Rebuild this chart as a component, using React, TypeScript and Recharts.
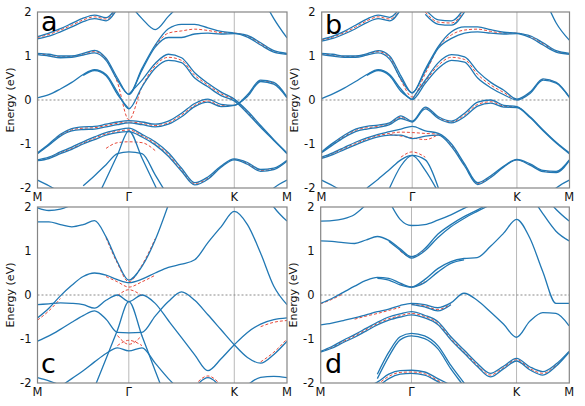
import React from 'react';
import { LineChart, Line, XAxis, YAxis, ReferenceLine } from 'recharts';

// ── Path, ticks ──────────────────────────────────────────────────────────────

// k-path M → Γ → K → M (hexagonal BZ, |ΓK| = 1)
const K_PATH = [0, 0.108, 0.217, 0.325, 0.433, 0.541, 0.65, 0.758, 0.866, 0.991, 1.116, 1.241, 1.366, 1.491, 1.616, 1.741, 1.866, 1.991, 2.116, 2.241, 2.366];
const K_TICKS = [0, 0.866, 1.866, 2.366];
const K_LABELS = ['M', 'Γ', 'K', 'M'];
const E_TICKS = [-2, -1, 0, 1, 2];

// pad a band that starts part way along the path
const from = (start: number, vals: number[]) => [...Array(start).fill(null), ...vals];

// ── Panel a ─────────────────────────────────────────────────────────────────

const A_BLUE = [
  [1.44, 1.52, 1.62, 1.74, 1.86, 1.93, 1.87, 2.15],
  [1.39, 1.45, 1.55, 1.66, 1.78, 1.85, 1.8, 2.08],
  [1.06, 1.04, 1.0, 1.0, 1.06, 1.13, 0.95, 0.5, 0.13, 0.72, 1.25, 1.62, 1.72, 1.72, 1.64, 1.56, 1.52, 1.47, 1.3, 1.12, 1.06],
  [1.03, 1.0, 0.96, 0.97, 1.02, 1.07, 0.9, 0.45, 0.13, 0.68, 1.2, 1.42, 1.42, 1.5, 1.52, 1.5, 1.51, 1.43, 1.25, 1.09, 1.04],
  [0.05, 0.12, 0.25, 0.4, 0.58, 0.69, 0.58, 0.18, -0.2, 0.3, 0.72, 0.9, 0.85, 0.5, 0.3, 0.1, -0.02, -0.3, -0.62, -0.92, -1.22],
  from(4, [0.56, 0.67, 0.55, 0.13, -0.2]),
  from(8, [0.13, 0.45, 0.83, 1.04, 0.96, 0.62, 0.38, 0.18, 0.02, -0.25, -0.58, -0.9, -1.2]),
  [-1.2, -1.0, -0.78, -0.65, -0.61, -0.6, -0.55, -0.5, -0.47, -0.5, -0.55, -0.48, -0.3, -0.08, 0.02, -0.1, -0.12, 0.12, 0.45, 0.4, 0.07],
  [-1.22, -1.03, -0.82, -0.7, -0.67, -0.66, -0.61, -0.56, -0.52, -0.56, -0.61, -0.55, -0.38, -0.15, -0.05, -0.15, -0.12, 0.08, 0.42, 0.36, 0.05],
  [-1.36, -1.3, -1.18, -1.07, -0.95, -0.84, -0.74, -0.68, -0.64, -0.78, -0.95, -1.2, -1.55, -1.88, -1.75, -1.5, -1.34, -1.42, -1.58, -1.55, -1.37],
  [-1.38, -1.33, -1.22, -1.12, -1.0, -0.9, -0.8, -0.74, -0.72, -0.84, -1.02, -1.28, -1.62, -1.93, -1.8, -1.53, -1.36, -1.46, -1.62, -1.58, -1.39],
  from(5, [-2.35, -1.8, -1.25, -0.7, -1.32, -1.95, -2.6]),
  from(4, [-1.95, -1.72, -1.47, -1.22, -1.18, -1.22, -1.7, -2.2]),
  [-1.82, -1.95, -2.1],
  from(18, [-2.3, -2.0, -1.82]),
  from(18, [2.4, 1.85, 1.41]),
  from(8, [2.2, 1.85, 1.6, 1.9, 2.2]),
];

const A_RED = [
  [1.42, 1.49, 1.59, 1.7, 1.82, 1.89, 1.84, 2.12],
  [1.05, 1.02, 0.98, 0.99, 1.04, 1.1, 0.93, 0.4, -0.45, 0.3, 0.78, 0.97, 0.9, 0.56, 0.34, 0.14, 0.0, -0.28, -0.6, -0.91, -1.21],
  from(10, [1.22, 1.52, 1.57, 1.61, 1.58, 1.53, 1.52, 1.45, 1.28, 1.1, 1.05]),
  [-1.21, -1.02, -0.8, -0.68, -0.64, -0.63, -0.58, -0.53, -0.5, -0.53, -0.58, -0.52, -0.34, -0.12, -0.02, -0.13, -0.12, 0.1, 0.44, 0.38, 0.06],
  [-1.37, -1.32, -1.2, -1.1, -0.98, -0.87, -0.77, -0.71, -0.68, -0.81, -0.99, -1.24, -1.59, -1.9, -1.78, -1.52, -1.35, -1.44, -1.6, -1.57, -1.38],
  from(6, [-1.1, -0.97, -0.95, -0.97, -1.15]),
];

// ── Panel b ─────────────────────────────────────────────────────────────────

const B_BLUE = [
  [1.38, 1.45, 1.56, 1.7, 1.84, 1.93, 1.88, 2.12],
  [1.34, 1.4, 1.5, 1.62, 1.76, 1.85, 1.8, 2.06],
  [1.06, 1.04, 1.0, 1.0, 1.05, 1.12, 1.0, 0.55, 0.16, 0.7, 1.22, 1.55, 1.66, 1.66, 1.6, 1.54, 1.52, 1.46, 1.3, 1.12, 1.06],
  [1.03, 1.0, 0.97, 0.97, 1.02, 1.07, 0.93, 0.48, 0.16, 0.66, 1.18, 1.4, 1.52, 1.55, 1.52, 1.5, 1.51, 1.42, 1.25, 1.09, 1.04],
  [0.03, 0.14, 0.27, 0.42, 0.58, 0.69, 0.58, 0.25, 0.01, 0.38, 0.72, 0.9, 0.86, 0.5, 0.28, 0.12, 0.0, 0.15, 0.45, 0.38, 0.06],
  from(4, [0.56, 0.67, 0.55, 0.2, 0.01]),
  from(8, [0.01, 0.45, 0.85, 1.03, 0.98, 0.65, 0.4, 0.22, 0.02, 0.18, 0.48, 0.4, 0.07]),
  [-1.18, -0.98, -0.8, -0.66, -0.6, -0.57, -0.52, -0.36, -0.48, -0.16, -0.38, -0.48, -0.3, -0.05, 0.0, -0.12, -0.15, -0.38, -0.68, -0.96, -1.2],
  [-1.2, -1.02, -0.85, -0.72, -0.66, -0.62, -0.56, -0.42, -0.5, -0.2, -0.42, -0.52, -0.38, -0.14, -0.07, -0.16, -0.17, -0.4, -0.7, -0.98, -1.22],
  [-1.3, -1.2, -1.08, -0.96, -0.86, -0.78, -0.72, -0.66, -0.6, -0.7, -0.76, -1.0, -1.45, -1.88, -1.72, -1.5, -1.35, -1.45, -1.6, -1.62, -1.36],
  [-1.33, -1.24, -1.13, -1.02, -0.92, -0.84, -0.8, -0.8, -0.88, -0.82, -0.8, -1.06, -1.5, -1.92, -1.76, -1.52, -1.36, -1.48, -1.63, -1.65, -1.38],
  from(4, [-2.0, -1.8, -1.58, -1.36, -1.26, -1.36, -2.0]),
  from(6, [-2.0, -1.5, -1.26, -1.6, -2.1]),
  [-1.82, -1.95, -2.1],
  from(18, [-2.3, -2.0, -1.82]),
  from(18, [2.4, 1.75, 1.36]),
  from(8, [2.3, 2.05, 1.82, 1.8, 2.1]),
  from(9, [1.95, 1.72, 1.7, 2.0]),
];

const B_RED = [
  [1.36, 1.43, 1.53, 1.66, 1.8, 1.89, 1.84, 2.09],
  [1.05, 1.02, 0.99, 0.99, 1.04, 1.1, 0.97, 0.45, 0.07, 0.6, 1.2, 1.48, 1.59, 1.61, 1.56, 1.52, 1.52, 1.44, 1.28, 1.1, 1.05],
  from(8, [0.01, 0.42, 0.79, 0.97, 0.92, 0.58, 0.34, 0.17, 0.01, 0.17, 0.47, 0.39, 0.07]),
  [-1.19, -1.0, -0.83, -0.69, -0.63, -0.6, -0.54, -0.39, -0.49, -0.18, -0.4, -0.5, -0.34, -0.1, -0.04, -0.14, -0.16, -0.39, -0.69, -0.97, -1.21],
  [-1.32, -1.22, -1.1, -0.99, -0.89, -0.81, -0.76, -0.73, -0.74, -0.76, -0.78, -1.03, -1.48, -1.9, -1.74, -1.51, -1.36, -1.47, -1.62, -1.64, -1.37],
  from(6, [-0.78, -0.82, -0.86, -0.9, -0.78]),
  from(7, [-1.3, -1.18, -1.3]),
  from(9, [2.0, 1.77, 1.75, 2.05]),
];

// ── Panel c ─────────────────────────────────────────────────────────────────

const C_BLUE = [
  [1.98, 1.92, 1.95, 2.05],
  [1.66, 1.66, 1.6, 1.55, 1.6, 1.69, 1.32, 0.75, 0.34, 0.65, 1.25, 2.05],
  [-0.52, -0.3, -0.02, 0.22, 0.42, 0.5, 0.45, 0.35, 0.28, 0.36, 0.5, 0.63, 0.7, 0.8, 1.19, 1.55, 1.9, 1.6, 0.95, 0.2, -0.22],
  [-0.22, -0.2, -0.18, -0.19, -0.22, -0.3, -0.12, 0.0, -0.15, 0.0, -0.19, -0.58, -0.97, -1.36, -1.72, -1.45, -1.13, -0.85, -0.66, -0.56, -0.52],
  [-1.05, -0.93, -0.78, -0.62, -0.47, -0.36, -0.55, -0.85, -0.86, -0.85, -0.48, -0.15, 0.07, -0.12, -0.45, -0.79, -1.13, -1.42, -1.55, -1.35, -1.05],
  from(5, [-2.1, -1.45, -0.8, -0.15, -0.93, -1.72, -2.5]),
  from(2, [-2.08, -1.9, -1.72, -1.52, -1.33, -1.2, -1.27, -1.2, -1.55, -1.9, -2.2]),
  [-1.88, -1.95, -2.05],
  from(13, [-2.1, -1.88, -2.1]),
  from(17, [-2.05, -1.87, -1.85, -1.88]),
  from(18, [2.5, 2.0, 1.68]),
];

const C_RED = [
  [-0.57, -0.36, -0.08],
  from(6, [1.3, 0.72, 0.3, 0.68, 1.28]),
  from(6, [0.42, 0.3, 0.18, 0.3, 0.45]),
  from(7, [-0.02, 0.12, -0.02]),
  from(7, [-0.92, -1.12, -0.92]),
  from(7, [-1.15, -1.03, -1.15]),
  from(18, [-0.72, -0.62, -0.58]),
  from(18, [-1.52, -1.3, -1.0]),
  from(13, [-2.05, -1.84, -2.05]),
];

// ── Panel d ─────────────────────────────────────────────────────────────────

const D_BLUE = [
  [1.68, 1.69, 1.73, 1.83, 2.05, 2.3],
  from(6, [2.15, 1.72, 1.58, 1.6, 1.7, 1.82, 1.97, 2.1]),
  [1.23, 1.22, 1.19, 1.17, 1.25, 1.33, 1.24, 1.05, 0.87, 1.05, 1.38, 1.6, 1.78, 1.93, 2.1],
  from(6, [1.22, 1.02, 0.84, 1.0, 1.3, 1.55, 1.74, 1.9, 2.05]),
  [-0.19, -0.08, 0.06, 0.2, 0.33, 0.4, 0.38, 0.27, 0.18, 0.35, 0.6, 0.76, 0.83, 0.85, 1.1, 1.4, 1.72, 1.3, 0.53, -0.19, -0.19],
  from(5, [0.38, 0.34, 0.23, 0.18, 0.28, 0.52, 0.72, 0.8]),
  [-0.68, -0.64, -0.58, -0.52, -0.45, -0.38, -0.32, -0.24, -0.19, -0.22, -0.29, -0.18, 0.04, -0.12, -0.38, -0.66, -0.96, -0.6, -0.4, -0.42, -0.7],
  from(8, [-0.22, -0.27, -0.36, -0.22]),
  [-1.28, -1.17, -1.03, -0.9, -0.76, -0.62, -0.5, -0.43, -0.38, -0.46, -0.6, -0.95, -1.25, -1.55, -1.78, -1.62, -1.44, -1.63, -1.74, -1.57, -1.28],
  [-1.3, -1.21, -1.08, -0.96, -0.82, -0.68, -0.57, -0.5, -0.45, -0.52, -0.67, -1.02, -1.32, -1.62, -1.86, -1.68, -1.5, -1.7, -1.82, -1.62, -1.3],
  from(5, [-1.8, -1.3, -0.95, -0.87, -0.93, -1.15, -1.6, -2.0, -2.4]),
  from(5, [-1.9, -1.4, -1.02, -0.93, -0.99, -1.22, -1.68, -2.08, -2.5]),
  from(4, [-2.1, -1.98, -1.8, -1.72, -1.71, -1.75, -1.9, -2.05]),
  from(5, [-2.1, -1.9, -1.8, -1.78, -1.82, -1.97, -2.15]),
  from(17, [2.3, 1.85, 1.45, 1.23]),
  from(18, [2.3, 1.95, 1.68]),
];

const D_RED = [
  [-1.29, -1.19, -1.06, -0.93, -0.79, -0.65, -0.54, -0.47, -0.42, -0.49, -0.64, -0.99, -1.29, -1.59, -1.82, -1.65, -1.47, -1.67, -1.78, -1.6, -1.29],
  from(5, [-2.04, -1.85, -1.76, -1.75, -1.79, -1.94, -2.1]),
  from(7, [1.0, 0.86, 1.02]),
  from(7, [0.25, 0.18, 0.3]),
  from(8, [-0.21, -0.25, -0.33, -0.2]),
  [-0.2, -0.1, 0.03],
  from(3, [-0.55, -0.48, -0.42, -0.35, -0.28]),
];

// ── Styling ─────────────────────────────────────────────────────────────────

const BLUE = '#2178b4';
const RED = '#e8493a';
const FONT = '"DejaVu Sans", Verdana, sans-serif';
const Y_AXIS_W = 37.5;
const PLOT_H = 176;
const TOP_PAD = 9;

interface PanelProps {
  blue: (number | null)[][];
  red: (number | null)[][];
  plotX: number;
  plotY: number;
  plotW: number;
}

function BandPanel({ blue, red, plotX, plotY, plotW }: PanelProps) {
  const rows = K_PATH.map((k, i) => {
    const row: Record<string, number | null> = { k };
    blue.forEach((b, j) => { row['b' + j] = b[i] ?? null; });
    red.forEach((r, j) => { row['r' + j] = r[i] ?? null; });
    return row;
  });
  const W = Y_AXIS_W + plotW + 8;
  const H = TOP_PAD + PLOT_H + 22;
  return (
    <div style={{ position: 'absolute', left: plotX - Y_AXIS_W, top: plotY - TOP_PAD, width: W, height: H }}>
      <LineChart width={W} height={H} data={rows} margin={{ top: TOP_PAD, right: 8, bottom: 0, left: 0 }}>
        <XAxis
          dataKey="k"
          type="number"
          domain={[0, 2.366]}
          ticks={K_TICKS}
          interval={0}
          tickFormatter={(_v: number, i: number) => K_LABELS[i]}
          tickSize={0}
          tickMargin={5}
          height={22}
          axisLine={false}
          tick={{ fill: '#111', fontSize: 11.5, fontFamily: FONT }}
          allowDataOverflow
        />
        <YAxis
          type="number"
          domain={[-2, 2]}
          ticks={E_TICKS}
          interval={0}
          width={Y_AXIS_W}
          tickSize={0}
          tickMargin={6}
          axisLine={false}
          tick={{ fill: '#111', fontSize: 11.5, fontFamily: FONT }}
          allowDataOverflow
        />
        <ReferenceLine x={0.866} stroke="#b8b8b8" strokeWidth={1} />
        <ReferenceLine x={1.866} stroke="#b8b8b8" strokeWidth={1} />
        <ReferenceLine y={0} stroke="#8a8a8a" strokeWidth={1} strokeDasharray="2 2" />
        {red.map((_r, j) => (
          <Line
            key={'r' + j}
            type="monotone"
            dataKey={'r' + j}
            stroke={RED}
            strokeWidth={1}
            strokeDasharray="3 2"
            dot={false}
            activeDot={false}
            isAnimationActive={false}
          />
        ))}
        {blue.map((_b, j) => (
          <Line
            key={'b' + j}
            type="monotone"
            dataKey={'b' + j}
            stroke={BLUE}
            strokeWidth={1.3}
            dot={false}
            activeDot={false}
            isAnimationActive={false}
          />
        ))}
      </LineChart>
    </div>
  );
}

const PANELS = [
  { key: 'a', blue: A_BLUE, red: A_RED, plotX: 37.5, plotY: 12, plotW: 249.5, lx: 41, ly: 31 },
  { key: 'b', blue: B_BLUE, red: B_RED, plotX: 321.7, plotY: 12, plotW: 247.8, lx: 325, ly: 34 },
  { key: 'c', blue: C_BLUE, red: C_RED, plotX: 37.5, plotY: 207, plotW: 249.5, lx: 41, ly: 373 },
  { key: 'd', blue: D_BLUE, red: D_RED, plotX: 320.7, plotY: 207, plotW: 248.6, lx: 325, ly: 373 },
];

export default function App() {
  return (
    <div style={{ position: 'absolute', left: 0, top: 0, width: 585, height: 406, background: '#fff', overflow: 'hidden' }}>
      {PANELS.map((p) => (
        <BandPanel key={p.key} blue={p.blue} red={p.red} plotX={p.plotX} plotY={p.plotY} plotW={p.plotW} />
      ))}
      <svg width={585} height={406} style={{ position: 'absolute', left: 0, top: 0, pointerEvents: 'none' }}>
        {PANELS.map((p) => (
          <g key={p.key}>
            <rect x={p.plotX} y={p.plotY} width={p.plotW} height={PLOT_H} fill="none" stroke="#858585" strokeWidth={1.2} />
            <text x={p.lx} y={p.ly} fontSize={27} fontFamily={FONT} fill="#000">{p.key}</text>
            <text
              x={p.plotX - 24}
              y={p.plotY + PLOT_H / 2}
              fontSize={11}
              fontFamily={FONT}
              fill="#111"
              textAnchor="middle"
              transform={`rotate(-90 ${p.plotX - 24} ${p.plotY + PLOT_H / 2})`}
            >
              Energy (eV)
            </text>
          </g>
        ))}
      </svg>
    </div>
  );
}
